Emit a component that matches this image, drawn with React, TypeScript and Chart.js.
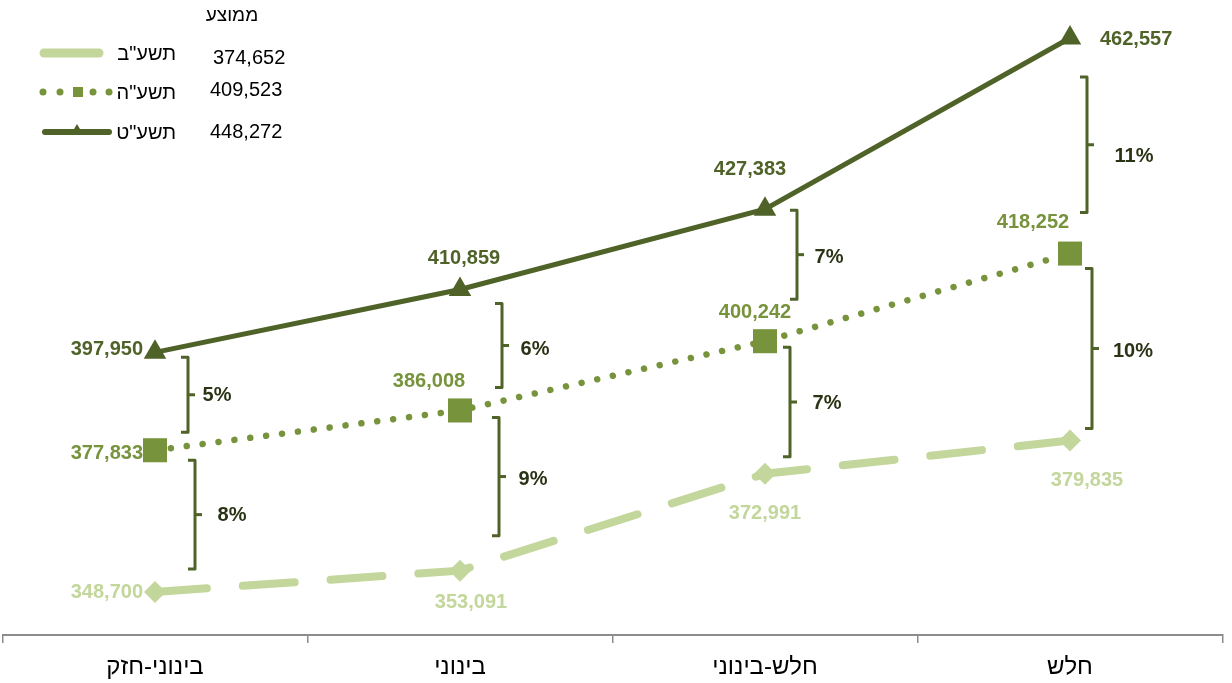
import React, { useEffect, useRef } from 'react';
import { Chart, registerables } from 'chart.js';

Chart.register(...registerables);

// ---------- data ----------
const categories = ['בינוני-חזק', 'בינוני', 'חלש-בינוני', 'חלש'];
const seriesNames = ['תשע"ב', 'תשע"ה', 'תשע"ט'];
const values2012 = [348700, 353091, 372991, 379835];
const values2015 = [377833, 386008, 400242, 418252];
const values2019 = [397950, 410859, 427383, 462557];
const averageHeader = 'ממוצע';
const averages = ['374,652', '409,523', '448,272'];

// ---------- styles ----------
const FONT = '"Liberation Sans", Arial, "DejaVu Sans", sans-serif';
const COLORS = ['#c3d69b', '#77933c', '#4f6228'];
const PCT_COLOR = '#2a3414';

// data-label placement per series / point (pixel offsets from the point)
const labelPlacement = [
  [
    { dx: -12, dy: 0, align: 'right' },
    { dx: 11, dy: 32, align: 'center' },
    { dx: 0, dy: 40, align: 'center' },
    { dx: 17, dy: 40, align: 'center' },
  ],
  [
    { dx: -12, dy: 3, align: 'right' },
    { dx: -31, dy: -29, align: 'center' },
    { dx: -10, dy: -29, align: 'center' },
    { dx: -37, dy: -31, align: 'center' },
  ],
  [
    { dx: -12, dy: -3, align: 'right' },
    { dx: 4, dy: -31, align: 'center' },
    { dx: -15, dy: -40, align: 'center' },
    { dx: 30, dy: 2, align: 'left' },
  ],
];

// bracket geometry (pixel offsets from category x / data point y)
const upperBrackets = [
  { dx: 33, top: 5, bottom: -18, ldx: 62, ldy: 1 },
  { dx: 42, top: 14, bottom: -23, ldx: 75, ldy: 4 },
  { dx: 32, top: 1, bottom: -42, ldx: 64, ldy: 3 },
  { dx: 17, top: 39, bottom: -41, ldx: 64, ldy: 12 },
];
const lowerBrackets = [
  { dx: 40, top: 10, bottom: -23, ldx: 77, ldy: 1 },
  { dx: 39, top: 7, bottom: -35, ldx: 73, ldy: 3 },
  { dx: 25, top: 6, bottom: -17, ldx: 62, ldy: 1 },
  { dx: 22, top: 15, bottom: -12, ldx: 63, ldy: 3 },
];

const fmt = (v: number) => v.toLocaleString('en-US');
const pct = (hi: number, lo: number) => Math.round((hi / lo - 1) * 100) + '%';

function drawBracket(ctx: CanvasRenderingContext2D, x: number, top: number, bottom: number) {
  const mid = (top + bottom) / 2;
  ctx.save();
  ctx.strokeStyle = COLORS[2];
  ctx.lineWidth = 3;
  ctx.lineJoin = 'round';
  ctx.lineCap = 'butt';
  ctx.beginPath();
  ctx.moveTo(x - 7, top);
  ctx.lineTo(x, top);
  ctx.lineTo(x, bottom);
  ctx.lineTo(x - 7, bottom);
  ctx.stroke();
  ctx.beginPath();
  ctx.moveTo(x, mid);
  ctx.lineTo(x + 7, mid);
  ctx.stroke();
  ctx.restore();
}

const annotPlugin = {
  id: 'annot',
  afterDatasetsDraw(chart: any) {
    const ctx: CanvasRenderingContext2D = chart.ctx;
    const xs = chart.scales.x;
    const ys = chart.scales.y;
    const series = [values2012, values2015, values2019];

    // data labels
    ctx.save();
    ctx.font = `bold 20px ${FONT}`;
    ctx.textBaseline = 'middle';
    series.forEach((vals, s) => {
      vals.forEach((v, i) => {
        const p = labelPlacement[s][i];
        const px = xs.getPixelForValue(i);
        const py = ys.getPixelForValue(v);
        ctx.fillStyle = COLORS[s];
        ctx.textAlign = p.align as CanvasTextAlign;
        ctx.fillText(fmt(v), px + p.dx, py + p.dy);
      });
    });
    ctx.restore();

    // brackets + percentages
    const pairs = [
      { hi: values2019, lo: values2015, cfg: upperBrackets },
      { hi: values2015, lo: values2012, cfg: lowerBrackets },
    ];
    pairs.forEach(({ hi, lo, cfg }) => {
      hi.forEach((hv, i) => {
        const c = cfg[i];
        const px = xs.getPixelForValue(i);
        const top = ys.getPixelForValue(hv) + c.top;
        const bottom = ys.getPixelForValue(lo[i]) + c.bottom;
        drawBracket(ctx, px + c.dx, top, bottom);
        ctx.save();
        ctx.font = `bold 20px ${FONT}`;
        ctx.fillStyle = PCT_COLOR;
        ctx.textAlign = 'center';
        ctx.textBaseline = 'middle';
        ctx.fillText(pct(hv, lo[i]), px + c.ldx, (top + bottom) / 2 + c.ldy);
        ctx.restore();
      });
    });

    // legend
    ctx.save();
    ctx.fillStyle = '#000';
    ctx.textBaseline = 'middle';
    ctx.font = `19px ${FONT}`;
    ctx.textAlign = 'center';
    ctx.fillText(averageHeader, 232, 16);

    // row 1 sample (dashed series)
    ctx.strokeStyle = COLORS[0];
    ctx.lineCap = 'round';
    ctx.lineWidth = 9;
    ctx.beginPath();
    ctx.moveTo(44, 53);
    ctx.lineTo(99, 53);
    ctx.stroke();

    // row 2 sample (dotted series)
    ctx.fillStyle = COLORS[1];
    [43, 60, 93, 109].forEach((x) => {
      ctx.beginPath();
      ctx.arc(x, 92, 3.5, 0, Math.PI * 2);
      ctx.fill();
    });
    ctx.fillRect(73, 87, 10, 10);

    // row 3 sample (solid series)
    ctx.strokeStyle = COLORS[2];
    ctx.lineWidth = 6;
    ctx.beginPath();
    ctx.moveTo(45, 132);
    ctx.lineTo(109, 132);
    ctx.stroke();
    ctx.fillStyle = COLORS[2];
    ctx.beginPath();
    ctx.moveTo(77, 124);
    ctx.lineTo(83, 134);
    ctx.lineTo(71, 134);
    ctx.closePath();
    ctx.fill();

    ctx.fillStyle = '#000';
    ctx.font = `20px ${FONT}`;
    ctx.textAlign = 'right';
    const labelY = [54, 93, 133];
    seriesNames.forEach((n, i) => ctx.fillText(n, 176, labelY[i]));
    ctx.textAlign = 'left';
    const valX = [213, 210, 210];
    const valY = [58, 90, 132];
    averages.forEach((a, i) => ctx.fillText(a, valX[i], valY[i]));
    ctx.restore();
  },
};

export default function App() {
  const ref = useRef<HTMLCanvasElement>(null);

  useEffect(() => {
    const canvas = ref.current;
    if (!canvas) return;
    const chart = new Chart(canvas, {
      type: 'line',
      data: {
        labels: categories,
        datasets: [
          {
            label: seriesNames[0],
            data: values2012,
            borderColor: COLORS[0],
            backgroundColor: COLORS[0],
            borderWidth: 8,
            borderDash: [52, 36],
            borderCapStyle: 'round',
            pointStyle: 'rectRot',
            pointRadius: 11,
            pointBorderWidth: 0,
            pointBackgroundColor: COLORS[0],
            tension: 0,
            clip: false,
          },
          {
            label: seriesNames[1],
            data: values2015,
            borderColor: COLORS[1],
            backgroundColor: COLORS[1],
            borderWidth: 6.5,
            borderDash: [0.01, 16],
            borderCapStyle: 'round',
            pointStyle: 'rect',
            pointRadius: 17,
            pointBorderWidth: 0,
            pointBackgroundColor: COLORS[1],
            tension: 0,
            clip: false,
          },
          {
            label: seriesNames[2],
            data: values2019,
            borderColor: COLORS[2],
            backgroundColor: COLORS[2],
            borderWidth: 5,
            pointStyle: 'triangle',
            pointRadius: 13,
            pointBorderWidth: 0,
            pointBackgroundColor: COLORS[2],
            tension: 0,
            clip: false,
          },
        ] as any,
      },
      options: {
        responsive: false,
        animation: false,
        events: [],
        layout: {
          autoPadding: false,
          padding: { left: 2.5, right: 9.5, top: 0, bottom: 4 },
        },
        plugins: {
          legend: { display: false },
          tooltip: { enabled: false },
        },
        scales: {
          x: {
            type: 'category',
            offset: true,
            grid: {
              offset: true,
              drawOnChartArea: false,
              drawTicks: true,
              tickLength: 8,
              color: '#8c8c8c',
              lineWidth: 1.5,
            },
            border: { display: true, color: '#8c8c8c', width: 2 },
            ticks: {
              color: '#000',
              font: { family: FONT, size: 24 },
              padding: 10,
              maxRotation: 0,
            },
            afterFit: (scale: any) => {
              scale.height = 44;
            },
          },
          y: {
            display: false,
            min: 339863,
            max: 470360,
          },
        },
      } as any,
      plugins: [annotPlugin],
    });
    return () => chart.destroy();
  }, []);

  return (
    <canvas
      ref={ref}
      width={1232}
      height={683}
      style={{ position: 'fixed', left: 0, top: 0, width: 1232, height: 683 }}
    />
  );
}
